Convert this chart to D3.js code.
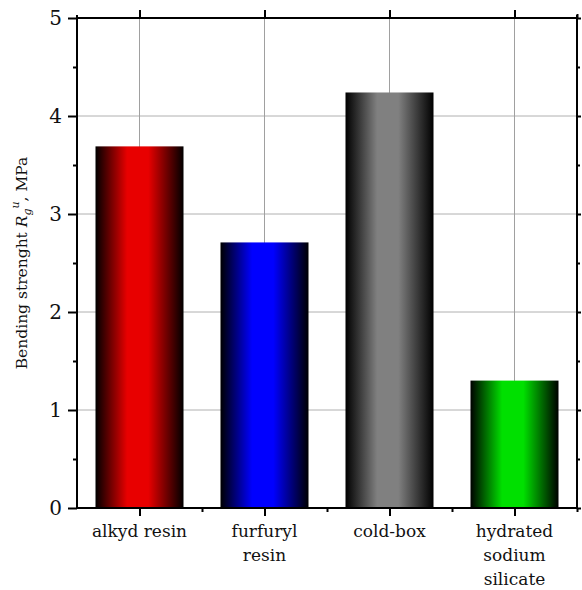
<!DOCTYPE html>
<html>
<head>
<meta charset="utf-8">
<script src="https://cdn.jsdelivr.net/npm/d3@7"></script>
<style>
  html, body { margin: 0; padding: 0; background: #fff; }
  svg { display: block; }
  text { font-family: "DejaVu Serif", "Liberation Serif", serif; fill: #111; }
</style>
</head>
<body>
<svg id="chart" width="582" height="590"></svg>
<script>
// ---- data ----
const categories = ["alkyd resin", "furfuryl resin", "cold-box", "hydrated sodium silicate"];
const categoryLines = [["alkyd resin"], ["furfuryl", "resin"], ["cold-box"], ["hydrated", "sodium", "silicate"]];
const values = [3.69, 2.71, 4.24, 1.30];
const barColors = ["#e80000", "#0000ff", "#808080", "#00e000"];
const yTicks = [0, 1, 2, 3, 4, 5];
const yMinorTicks = [0.5, 1.5, 2.5, 3.5, 4.5];

// ---- layout ----
const margin = { left: 77, right: 5, top: 18, bottom: 82 };
const W = 582, H = 590;
const svg = d3.select("#chart");
const x0 = margin.left, x1 = W - margin.right, y0 = H - margin.bottom, y1 = margin.top;

const x = d3.scaleBand().domain(categories).range([x0, x1]).paddingInner(0.296).paddingOuter(0.148);
const xc = d => x(d) + x.bandwidth() / 2;
const y = d3.scaleLinear().domain([0, 5]).range([y0, y1]);

// gradients
const defs = svg.append("defs");
categories.forEach((c, i) => {
  const g = defs.append("linearGradient").attr("id", "grad" + i)
    .attr("x1", "0%").attr("x2", "100%").attr("y1", "0%").attr("y2", "0%");
  g.append("stop").attr("offset", "0%").attr("stop-color", "#000");
  g.append("stop").attr("offset", "36%").attr("stop-color", barColors[i]);
  g.append("stop").attr("offset", "60%").attr("stop-color", barColors[i]);
  g.append("stop").attr("offset", "100%").attr("stop-color", "#000");
});

// grid lines
svg.append("g").selectAll("line.hg").data(yTicks.filter(t => t > 0 && t < 5)).join("line")
  .attr("x1", x0).attr("x2", x1).attr("y1", d => y(d)).attr("y2", d => y(d))
  .attr("stroke", "#b0b0b0").attr("stroke-width", 1);
svg.append("g").selectAll("line.vg").data(categories).join("line")
  .attr("x1", d => xc(d)).attr("x2", d => xc(d)).attr("y1", y1).attr("y2", y0)
  .attr("stroke", "#a0a0a0").attr("stroke-width", 1);

// bars
svg.append("g").selectAll("rect").data(categories).join("rect")
  .attr("x", d => x(d)).attr("width", x.bandwidth())
  .attr("y", (d, i) => y(values[i])).attr("height", (d, i) => y0 - y(values[i]))
  .attr("fill", (d, i) => `url(#grad${i})`);

// axes
const axisW = 2;
// left axis
const yAxisL = d3.axisLeft(y).tickValues(yTicks).tickSize(9).tickPadding(6).tickFormat(d3.format("d"));
const gL = svg.append("g").attr("transform", `translate(${x0},0)`).call(yAxisL);
gL.select(".domain").remove();
gL.selectAll(".tick line").attr("stroke", "#000").attr("stroke-width", 2);
gL.selectAll(".tick text").style("font-size", "20px").attr("font-family", "DejaVu Serif");
const gLm = svg.append("g").attr("transform", `translate(${x0},0)`)
  .call(d3.axisLeft(y).tickValues(yMinorTicks).tickSize(4).tickFormat(""));
gLm.select(".domain").remove();
gLm.selectAll(".tick line").attr("stroke", "#000").attr("stroke-width", 2);

// right axis
const gR = svg.append("g").attr("transform", `translate(${x1},0)`)
  .call(d3.axisRight(y).tickValues(yTicks).tickSize(4).tickFormat(""));
gR.select(".domain").remove();
gR.selectAll(".tick line").attr("stroke", "#000").attr("stroke-width", 2);
const gRm = svg.append("g").attr("transform", `translate(${x1},0)`)
  .call(d3.axisRight(y).tickValues(yMinorTicks).tickSize(3).tickFormat(""));
gRm.select(".domain").remove();
gRm.selectAll(".tick line").attr("stroke", "#000").attr("stroke-width", 2);

// bottom axis major ticks at category centers
const xCenters = d3.scaleLinear().domain([x0, x1]).range([x0, x1]);
const boundaries = categories.map(c => x(c) - x.step() * x.paddingInner() / 2).concat([x1]);
const gB = svg.append("g").attr("transform", `translate(0,${y0})`)
  .call(d3.axisBottom(xCenters).tickValues(categories.map(xc)).tickSize(8).tickFormat(""));
gB.select(".domain").remove();
gB.selectAll(".tick line").attr("stroke", "#000").attr("stroke-width", 2);
const gBm = svg.append("g").attr("transform", `translate(0,${y0})`)
  .call(d3.axisBottom(xCenters).tickValues(boundaries.slice(1)).tickSize(4).tickFormat(""));
gBm.select(".domain").remove();
gBm.selectAll(".tick line").attr("stroke", "#000").attr("stroke-width", 2);

// top axis ticks
const gT = svg.append("g").attr("transform", `translate(0,${y1})`)
  .call(d3.axisTop(xCenters).tickValues(categories.map(xc)).tickSize(8).tickFormat(""));
gT.select(".domain").remove();
gT.selectAll(".tick line").attr("stroke", "#000").attr("stroke-width", 2);
const gTm = svg.append("g").attr("transform", `translate(0,${y1})`)
  .call(d3.axisTop(xCenters).tickValues([x1]).tickSize(4).tickFormat(""));
gTm.select(".domain").remove();
gTm.selectAll(".tick line").attr("stroke", "#000").attr("stroke-width", 2);

// frame lines
const frame = svg.append("g").attr("stroke", "#000").attr("stroke-width", axisW);
frame.append("line").attr("x1", x0).attr("x2", x0).attr("y1", y1 - 3).attr("y2", y0 + 1);
frame.append("line").attr("x1", x1).attr("x2", x1).attr("y1", y1 - 3).attr("y2", y0 + 1);
frame.append("line").attr("x1", x0 - 1).attr("x2", x1 + 1).attr("y1", y0).attr("y2", y0);
frame.append("line").attr("x1", x0 - 1).attr("x2", x1 + 1).attr("y1", y1).attr("y2", y1);

// x category labels
const labG = svg.append("g");
categories.forEach((c, i) => {
  const t = labG.append("text").attr("text-anchor", "middle").style("font-size", "17px");
  categoryLines[i].forEach((ln, j) => {
    t.append("tspan").attr("x", xc(c)).attr("y", 537 + j * 24).text(ln);
  });
});

// y axis title
const yt = svg.append("text")
  .attr("transform", `translate(27,${(y0 + y1) / 2}) rotate(-90)`)
  .attr("text-anchor", "middle").style("font-size", "15.5px");
yt.append("tspan").text("Bending strenght ");
yt.append("tspan").attr("font-style", "italic").text("R");
yt.append("tspan").attr("font-style", "italic").attr("dy", 4).style("font-size", "11px").text("g");
yt.append("tspan").attr("font-style", "italic").attr("dy", -12).style("font-size", "11px").text("u");
yt.append("tspan").attr("dy", 8).text(", MPa");
</script>
</body>
</html>
